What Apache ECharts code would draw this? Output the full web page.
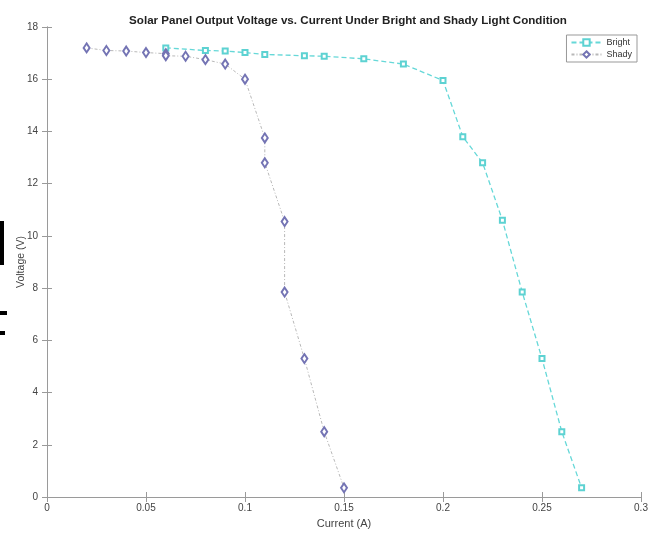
<!DOCTYPE html>
<html lang="en">
<head>
    <meta charset="UTF-8">
    <script src="https://cdn.jsdelivr.net/npm/echarts@6/dist/echarts.min.js"></script>
    <title>solar-panel</title>
    <style>
        html, body { margin: 0; padding: 0; background: #fff; }
    </style>
</head>
<body>
    <div id="main" style="width: 654px; height: 534px"></div>
    <script type="text/javascript">
        // current (A) and voltage (V)
        let brightCurrent = [0.06, 0.08, 0.09, 0.1, 0.11, 0.13, 0.14, 0.16, 0.18, 0.2, 0.21, 0.22, 0.23, 0.24, 0.25, 0.26, 0.27];
        let brightVoltage = [17.2, 17.1, 17.08, 17.02, 16.95, 16.9, 16.88, 16.78, 16.58, 15.95, 13.8, 12.8, 10.6, 7.85, 5.3, 2.5, 0.35];
        let shadyCurrent = [0.02, 0.03, 0.04, 0.05, 0.06, 0.06, 0.07, 0.08, 0.09, 0.1, 0.11, 0.11, 0.12, 0.12, 0.13, 0.14, 0.15];
        let shadyVoltage = [17.2, 17.1, 17.08, 17.02, 16.98, 16.9, 16.88, 16.75, 16.58, 16.0, 13.75, 12.8, 10.55, 7.85, 5.3, 2.5, 0.35];
        let xTicks = [0, 0.05, 0.1, 0.15, 0.2, 0.25, 0.3];

        let chart = echarts.init(document.getElementById('main'));
        let font = 'Liberation Sans, Arial, sans-serif';
        let axisColor = '#9a9a9a';

        function pairs(xs, ys) {
            return xs.map(function (x, i) { return [x, ys[i]]; });
        }

        let option = {
            animation: false,
            textStyle: { fontFamily: font },
            title: {
                text: 'Solar Panel Output Voltage vs. Current Under Bright and Shady Light Condition',
                left: 343,
                textAlign: 'center',
                top: 10,
                textStyle: { fontSize: 11.6, fontWeight: 'bold', color: '#222', fontFamily: font }
            },
            legend: {
                right: 17,
                top: 35,
                orient: 'vertical',
                itemWidth: 30,
                itemHeight: 8,
                itemGap: 3,
                padding: [3, 5, 3, 4],
                borderColor: '#999',
                borderWidth: 1,
                borderRadius: 0,
                textStyle: { fontSize: 9, color: '#333' },
                data: ['Bright', 'Shady']
            },
            grid: { left: 47, right: 13, top: 27, bottom: 37, outerBoundsMode: 'none' },
            xAxis: [{
                type: 'value',
                min: 0,
                max: 0.3,
                interval: 0.05,
                name: 'Current (A)',
                nameLocation: 'middle',
                nameGap: 21,
                nameTextStyle: { fontSize: 11, color: '#444' },
                axisLine: { lineStyle: { color: axisColor } },
                axisTick: { inside: true, length: 5, lineStyle: { color: axisColor } },
                axisLabel: {
                    fontSize: 10, color: '#444', margin: 6,
                    formatter: function (v) {
                        let t = xTicks.find(function (k) { return Math.abs(k - v) < 1e-9; });
                        return t === undefined ? '' : String(t);
                    }
                },
                splitLine: { show: false }
            }, {
                type: 'value',
                position: 'top',
                min: 0,
                max: 0.3,
                interval: 0.05,
                axisLine: { show: true, lineStyle: { color: axisColor } },
                axisTick: { inside: true, length: 5, lineStyle: { color: axisColor } },
                axisLabel: { show: false },
                splitLine: { show: false }
            }],
            yAxis: [{
                type: 'value',
                min: 0,
                max: 18,
                interval: 2,
                name: 'Voltage (V)',
                nameLocation: 'middle',
                nameGap: 20,
                nameMoveOverlap: false,
                nameTextStyle: { fontSize: 10.5, color: '#444' },
                axisLine: { show: true, lineStyle: { color: axisColor } },
                axisTick: { show: true, inside: true, length: 5, lineStyle: { color: axisColor } },
                axisLabel: { fontSize: 10, color: '#444', margin: 9 },
                splitLine: { show: false }
            }, {
                type: 'value',
                position: 'right',
                min: 0,
                max: 18,
                interval: 2,
                axisLine: { show: true, lineStyle: { color: axisColor } },
                axisTick: { show: true, inside: true, length: 5, lineStyle: { color: axisColor } },
                axisLabel: { show: false },
                splitLine: { show: false }
            }],
            series: [{
                name: 'Bright',
                type: 'line',
                data: pairs(brightCurrent, brightVoltage),
                symbol: 'emptyRect',
                symbolSize: 5,
                showAllSymbol: true,
                lineStyle: { color: '#66d8d8', width: 1.3, type: [5, 3] },
                itemStyle: { color: '#5dd2d2', borderWidth: 1 },
                z: 2
            }, {
                name: 'Shady',
                type: 'line',
                data: pairs(shadyCurrent, shadyVoltage),
                symbol: 'emptyDiamond',
                symbolSize: [6, 9],
                showAllSymbol: true,
                lineStyle: { color: '#b8b8b8', width: 1, type: [3, 2, 1, 2] },
                itemStyle: { color: '#7474b4', borderWidth: 1 },
                z: 3
            }],
            graphic: [
                // black fragments of slide text cut off at the left edge
                { type: 'rect', shape: { x: 0, y: 221, width: 4, height: 44 }, style: { fill: '#000' } },
                { type: 'rect', shape: { x: 0, y: 311, width: 7, height: 4 }, style: { fill: '#000' } },
                { type: 'rect', shape: { x: 0, y: 331, width: 5, height: 4 }, style: { fill: '#000' } }
            ]
        };

        chart.setOption(option);
    </script>
</body>
</html>
